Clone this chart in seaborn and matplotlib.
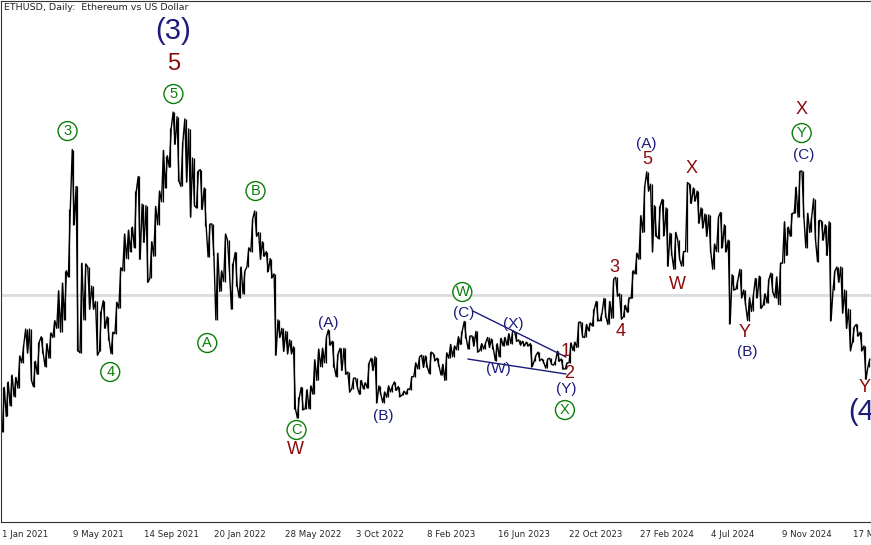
import numpy as np
import pandas as pd
import seaborn as sns
import matplotlib.pyplot as plt

# недельные максимумы / минимумы ETHUSD (оценка по графику), недели с 1 Jan 2021
week_high = [
    1280, 1350, 1440, 1410, 1690, 1830, 2040, 2040, 1620, 1870, 1940, 1850, 1990,
    2150, 2540, 2640, 2800, 3600, 4380, 3900, 2900, 2890, 2850, 2600, 2400, 2280,
    2410, 2200, 2000, 2390, 2840, 3280, 3330, 3370, 3840, 4030, 3670, 3650, 3180,
    3640, 3840, 4370, 4300, 4660, 4870, 4810, 4480, 4780, 4650, 4270, 4100, 4120,
    3880, 3410, 3410, 3030, 2800, 3280, 3200, 2900, 3040, 2850, 2800, 3100, 3480,
    3580, 3300, 3180, 3050, 2960, 2760, 2160, 2050, 2010, 1900, 1810, 1150, 1280,
    1250, 1300, 1640, 1780, 1790, 1940, 2030, 1880, 1720, 1790, 1790, 1480, 1400,
    1400, 1370, 1340, 1600, 1660, 1680, 1300, 1220, 1300, 1300, 1350, 1290, 1230,
    1260, 1420, 1600, 1680, 1700, 1690, 1740, 1720, 1660, 1580, 1730, 1840, 1820,
    1940, 2020, 2140, 1950, 1950, 2010, 1850, 1860, 1930, 1910, 1850, 1920, 1930,
    1980, 2020, 2000, 1900, 1880, 1870, 1850, 1700, 1740, 1650, 1650, 1660, 1620,
    1750, 1650, 1600, 1860, 1870, 2130, 2130, 2100, 2120, 2300, 2400, 2250, 2440,
    2400, 2690, 2715, 2500, 2350, 2450, 2800, 3030, 3520, 3900, 4090, 3930, 3650,
    3650, 3730, 3620, 3290, 3300, 3200, 3050, 3950, 3930, 3880, 3840, 3620, 3540,
    3530, 3150, 3500, 3560, 3400, 3200, 2750, 2680, 2820, 2550, 2450, 2480, 2700,
    2730, 2500, 2690, 2770, 2720, 2900, 3440, 3370, 3550, 3890, 4100, 4100, 3550,
    3500, 3740, 3460, 3450, 3400, 3440, 2800, 2850, 2850, 2550, 2300, 2070, 2100,
    2000, 1820, 1650,
]
week_low = [
    700, 900, 1040, 1160, 1270, 1600, 1730, 1370, 1290, 1450, 1730, 1550, 1660,
    1930, 2050, 2000, 2160, 2720, 3400, 1760, 1730, 2160, 2300, 2300, 1700, 1750,
    2050, 1900, 1720, 1980, 2310, 2800, 2960, 3050, 3100, 2950, 3170, 2650, 2700,
    2990, 3400, 3700, 3880, 4150, 4450, 3970, 3900, 3960, 3500, 3650, 3620, 3600,
    3380, 2980, 3000, 2160, 2530, 2660, 2800, 2300, 2600, 2450, 2500, 2850, 3050,
    3250, 2950, 2990, 2790, 2710, 1700, 1930, 1750, 1720, 1720, 1000, 880, 990,
    1000, 1000, 1190, 1370, 1550, 1600, 1830, 1550, 1420, 1500, 1450, 1220, 1260,
    1270, 1190, 1260, 1270, 1500, 1080, 1190, 1080, 1150, 1220, 1240, 1160, 1180,
    1190, 1250, 1420, 1520, 1540, 1540, 1460, 1630, 1560, 1440, 1370, 1660, 1680,
    1770, 1840, 1920, 1780, 1820, 1740, 1760, 1780, 1800, 1780, 1630, 1680, 1820,
    1830, 1850, 1880, 1830, 1820, 1820, 1550, 1620, 1630, 1600, 1530, 1580, 1570,
    1620, 1520, 1520, 1600, 1760, 1800, 1940, 1930, 2020, 2080, 2150, 2150, 2200,
    2100, 2180, 2470, 2170, 2200, 2260, 2440, 2760, 2950, 3300, 3840, 3050, 3250,
    3220, 3260, 2860, 3000, 2820, 2950, 2860, 3050, 3680, 3710, 3420, 3360, 3250,
    3050, 2820, 3050, 3100, 3050, 2110, 2550, 2560, 2450, 2350, 2150, 2270, 2450,
    2310, 2350, 2380, 2520, 2450, 2360, 2900, 3000, 3250, 3550, 3500, 3500, 3100,
    3300, 3200, 2920, 3200, 3000, 2150, 2550, 2650, 2250, 2050, 1760, 1870, 1950,
    1760, 1385, 1550,
]
weeks = pd.date_range('2021-01-01', periods=len(week_high), freq='7D')

tick_dates = pd.date_range('2021-01-01', periods=13, freq='128D')
tick_labels = ['1 Jan 2021', '9 May 2021', '14 Sep 2021', '20 Jan 2022', '28 May 2022',
               '3 Oct 2022', '8 Feb 2023', '16 Jun 2023', '22 Oct 2023', '27 Feb 2024',
               '4 Jul 2024', '9 Nov 2024', '17 Mar 2025']

# волновая разметка: текст, дата, цена, стиль
wave_labels = [
    ('(3)', '2021-11-07', 5926, 'navy_big'),
    ('5', '2021-11-07', 5496, 'red_big'),
    ('5', '2021-11-07', 5105, 'green'),
    ('3', '2021-04-30', 4622, 'green'),
    ('4', '2021-07-16', 1480, 'green'),
    ('A', '2022-01-07', 1858, 'green'),
    ('B', '2022-04-04', 3840, 'green'),
    ('C', '2022-06-17', 724, 'green'),
    ('W', '2022-06-15', 463, 'red'),
    ('(A)', '2022-08-13', 2119, 'navy'),
    ('(B)', '2022-11-20', 906, 'navy'),
    ('W', '2023-04-12', 2523, 'green'),
    ('(C)', '2023-04-14', 2249, 'navy'),
    ('(X)', '2023-07-13', 2106, 'navy'),
    ('(W)', '2023-06-16', 1519, 'navy'),
    ('1', '2023-10-16', 1741, 'red'),
    ('2', '2023-10-21', 1454, 'red'),
    ('(Y)', '2023-10-16', 1258, 'navy'),
    ('X', '2023-10-14', 984, 'green'),
    ('3', '2024-01-12', 2849, 'red'),
    ('4', '2024-01-23', 2014, 'red'),
    ('(A)', '2024-03-08', 4453, 'navy'),
    ('5', '2024-03-11', 4257, 'red'),
    ('X', '2024-05-30', 4140, 'red'),
    ('W', '2024-05-03', 2627, 'red'),
    ('Y', '2024-09-02', 2001, 'red'),
    ('(B)', '2024-09-06', 1741, 'navy'),
    ('X', '2024-12-14', 4909, 'red'),
    ('Y', '2024-12-14', 4596, 'green'),
    ('(C)', '2024-12-18', 4310, 'navy'),
    ('Y', '2025-04-06', 1284, 'red'),
]
# линии треугольника
trend_lines = [
    (('2023-05-01', 2275), ('2023-10-16', 1675)),
    (('2023-04-22', 1649), ('2023-10-16', 1454)),
]
level_price = 2484

NAVY = '#1b1b7a'
RED = '#8b0a0a'
GREEN = '#0a7d0a'

# зигзаг по недельным диапазонам (порядок по направлению движения)
mid = (np.array(week_high) + np.array(week_low)) / 2
nxt = np.append(mid[1:], mid[-1])
xs, ys = [], []
for i, w in enumerate(weeks):
    a, b = (week_low[i], week_high[i]) if nxt[i] >= mid[i] else (week_high[i], week_low[i])
    xs += [w + pd.Timedelta(days=1.5), w + pd.Timedelta(days=5)]
    ys += [a, b]

sns.set_style('white')
plt.rcParams['font.family'] = ['DejaVu Sans']

fig = plt.figure(figsize=(8.71, 5.45), dpi=100)
ax = fig.add_axes([1 / 871, 23 / 545, 870 / 871, 521 / 545])

ax.axhline(level_price, color='#dcdcdc', lw=2, zorder=0)
ax.vlines(weeks + pd.Timedelta(days=3.3), week_low, week_high, color='black', lw=0.9)
sns.lineplot(x=xs, y=ys, sort=False, estimator=None, color='black', linewidth=1.0, ax=ax)

for (d0, p0), (d1, p1) in trend_lines:
    ax.plot([pd.Timestamp(d0), pd.Timestamp(d1)], [p0, p1], color=NAVY, lw=1)

for txt, d, p, kind in wave_labels:
    d = pd.Timestamp(d)
    if kind == 'navy_big':
        ax.text(d, p, txt, color=NAVY, fontsize=21, ha='center', va='center', family='Liberation Sans')
    elif kind == 'red_big':
        ax.text(d, p, txt, color=RED, fontsize=17, ha='center', va='center', family='Liberation Sans')
    elif kind == 'navy':
        ax.text(d, p, txt, color=NAVY, fontsize=11, ha='center', va='center', family='Liberation Sans')
    elif kind == 'red':
        ax.text(d, p, txt, color=RED, fontsize=13, ha='center', va='center', family='Liberation Sans')
    else:
        ax.text(d, p, txt, color=GREEN, fontsize=10.5, ha='center', va='center', family='Liberation Sans',
                bbox=dict(boxstyle='circle,pad=0.17', fc='white', ec=GREEN, lw=1))

# "(4" обрезано краем окна, как в терминале
ax.text(pd.Timestamp('2025-03-08'), 958, '(4', color=NAVY, fontsize=21, ha='left', va='center',
        family='Liberation Sans', clip_on=False)

ax.set_xlim(pd.Timestamp('2020-12-31'), pd.Timestamp('2025-04-18'))
ax.set_ylim(-476, 6318)
ax.set_yticks([])
ax.set_xticks(tick_dates)
ax.set_xticklabels(tick_labels, fontsize=6.2, ha='left')
ax.tick_params(axis='x', length=4, width=0.8, pad=2, color='#333333')
for s in ['left', 'top', 'bottom']:
    ax.spines[s].set_color('#333333')
    ax.spines[s].set_linewidth(0.8)
ax.spines['right'].set_visible(False)
ax.set_xlabel('')
ax.set_ylabel('')

fig.text(4 / 871, 1 - 8 / 545, 'ETHUSD, Daily:  Ethereum vs US Dollar', fontsize=6.8, va='center', ha='left')

fig.savefig('out.png', dpi=100)
